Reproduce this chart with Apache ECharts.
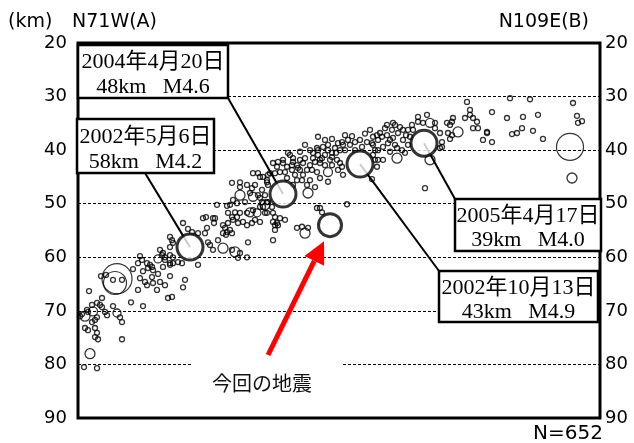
<!DOCTYPE html>
<html>
<head>
<meta charset="utf-8">
<script src="https://cdn.jsdelivr.net/npm/echarts/dist/echarts.min.js"></script>
<style>
html, body { margin: 0; padding: 0; background: #fff; }
#main { width: 634px; height: 443px; }
</style>
</head>
<body>
<div id="main"></div>
<script>
// 断面図: 横軸 = 測線沿いの距離(km, A→B), 縦軸 = 深さ(km)
var depthTicks = [20, 30, 40, 50, 60, 70, 80, 90];
var distRange = [0, 104.4];

// 小さな地震 [距離, 深さ]
var smallQuakes = [
  [12.4,59.8],[12.8,60.5],[12.0,61.1],[14.4,61.4],[14.0,62.0],[13.0,62.6],[15.0,62.4],[16.8,59.6],
  [17.4,60.0],[18.4,59.6],[19.0,61.1],[20.8,61.1],[18.4,61.4],[17.0,61.8],[16.0,63.1],[14.8,63.7],
  [13.4,64.6],[13.8,65.2],[15.0,64.8],[16.4,64.6],[17.4,65.2],[18.4,63.5],[21.4,64.2],[21.0,65.6],
  [15.8,66.1],[12.4,63.9],[12.0,66.1],[10.6,68.4],[13.0,69.1],[18.0,67.6],[18.8,67.4],[7.0,64.2],
  [8.8,64.2],[4.6,63.5],[5.6,63.3],[11.0,62.2],[2.2,66.3],[4.8,67.6],[2.8,68.9],[3.8,68.5],
  [4.4,68.9],[4.8,69.3],[1.8,69.8],[3.4,71.7],[3.8,71.2],[2.8,72.1],[5.4,70.2],[5.8,70.8],
  [7.0,69.1],[8.4,71.2],[8.8,72.1],[1.4,73.2],[2.0,73.6],[3.4,73.2],[3.8,74.1],[3.4,74.9],
  [4.0,75.3],[8.8,75.3],[1.2,80.5],[3.8,80.7],[0.4,71.0],[0.8,70.6],[2.0,70.2],
  [21.0,53.6],[22.0,54.7],[22.8,55.3],[24.0,55.5],[25.0,52.7],[25.6,52.5],[25.8,54.5],[25.4,55.5],
  [27.4,52.7],[27.2,53.6],[27.8,50.2],[26.0,57.2],[26.4,57.7],[27.0,58.6],[28.0,56.8],[30.8,58.6],
  [32.4,59.2],[32.0,60.1],[33.8,60.0],[34.0,57.2],
  [29.0,54.0],[29.4,54.5],[29.8,55.3],[30.4,54.9],[29.6,55.8],[30.8,55.5],[29.0,55.5],[30.0,53.6],
  [31.0,53.0],[31.8,52.5],[30.8,52.5],[30.0,51.7],[31.4,51.6],[32.4,51.7],[33.0,53.4],[32.0,53.6],
  [33.8,51.7],[35.0,51.2],[36.4,50.6],[36.8,49.7],[38.0,49.7],[37.8,51.7],[36.4,53.4],[35.4,53.0],
  [34.8,53.6],[33.8,54.0],[39.0,51.7],[39.8,53.6],[39.4,52.5],[40.0,54.0],
  [30.8,46.1],[32.4,46.0],[32.4,46.9],[33.8,46.5],[34.8,47.1],[35.4,46.5],[36.0,44.3],[36.4,45.0],
  [37.8,45.6],[38.0,46.5],[36.0,48.4],[36.4,48.9],[34.4,48.0],[31.0,49.3],[31.8,49.9],[33.4,49.7],
  [30.4,50.2],[29.8,50.4],
  [18.8,56.8],[19.0,57.3],[18.4,58.1],[16.4,58.6],[17.0,59.2],[17.4,60.5],[19.0,60.0],[18.4,61.1],
  [13.8,61.1],[14.8,61.8],[20.0,60.9],[18.4,56.2],[24.0,61.4],[27.0,52.7],
  [48.0,37.5],[49.4,38.1],[50.8,37.9],[52.8,38.5],[54.8,37.4],[56.4,38.1],[57.8,38.5],[59.0,37.5],
  [53.0,39.0],[52.0,38.7],[51.4,39.6],[50.0,40.0],[49.0,39.4],[47.8,39.6],[47.0,40.5],[48.0,40.9],
  [49.4,40.9],[50.8,41.3],[51.8,41.8],[52.4,42.4],[50.8,42.8],[49.4,42.8],[48.4,42.4],[47.4,42.2],
  [46.4,42.8],[45.8,43.7],[46.8,43.7],[47.8,44.1],[48.4,45.2],[50.0,45.9],[53.0,44.6],[52.0,43.7],
  [52.8,43.1],[45.0,42.4],[44.4,41.8],[43.0,41.5],[42.0,40.5],[43.0,42.2],[43.8,42.8],[44.0,43.3],
  [42.8,42.8],[41.8,43.1],[41.0,42.4],[40.0,42.2],[39.8,43.1],[40.4,44.1],[39.4,44.3],[41.4,44.1],
  [42.8,43.7],[43.4,44.6],[45.0,44.6],[44.8,45.6],[43.8,45.6],[43.0,46.5],[45.8,46.5],[47.4,46.9],
  [46.4,45.6],[38.0,44.6],[37.0,45.0],[37.8,46.0],[36.8,47.4],[37.4,48.4],[37.8,49.7],[38.8,50.6],
  [37.0,50.6],[37.4,51.7],[48.4,50.8],[48.8,51.6],[40.4,52.7],[41.4,53.0],[39.4,54.0],[39.0,53.4],
  [53.8,50.1],[55.4,38.5],[56.8,39.4],[48.0,40.0],[50.0,39.0],[50.8,40.5],[48.8,41.5],[59.8,37.2],
  [60.0,38.1],[59.0,39.0],[59.4,40.0],[60.0,41.8],[59.8,43.1],[38.4,44.3],
  [47.8,50.8],[46.0,54.5],[43.8,54.5],[39.0,56.8],[39.4,54.9],[44.8,54.3],
  [35.0,44.3],[39.0,42.4],[42.4,40.9],[44.4,40.3],
  [58.8,38.7],[60.8,37.5],[61.8,37.2],[62.8,36.2],[63.4,35.3],[64.4,35.7],[65.0,36.2],[64.0,36.8],
  [63.0,37.7],[62.0,38.7],[61.0,39.4],[60.0,40.0],[59.0,40.9],[59.4,41.8],[61.0,41.8],[62.4,40.3],
  [63.8,39.6],[64.8,40.0],[65.4,40.5],[66.0,39.0],[66.4,37.5],[66.0,36.2],[66.8,35.3],[67.0,36.2],
  [68.0,33.8],[69.8,33.4],[68.0,34.7],[69.0,34.9],[71.4,34.9],[71.4,35.9],[72.4,36.8],[72.8,38.5],
  [72.8,39.4],[72.4,39.6],[73.8,34.9],[74.8,34.7],[75.0,34.0],[74.4,35.3],[74.0,36.8],[74.8,37.2],
  [74.4,37.9],[77.8,31.0],[78.4,32.5],[78.4,33.4],[77.4,34.0],[79.0,34.0],[79.8,34.7],[79.0,35.9],
  [80.0,35.9],[81.0,38.1],[81.8,36.8],[69.4,47.1],[61.8,35.3],[63.0,34.9],[60.4,36.8],
  [86.4,30.3],[90.4,30.5],[99.0,31.2],[82.8,32.9],[85.8,34.0],[89.0,33.8],[92.0,33.4],[99.8,33.6],
  [100.8,34.6],[100.0,34.9],[88.8,35.9],[86.8,37.0],[87.8,36.8],[91.0,36.4],[81.8,36.6],[82.8,38.5],
  [93.0,37.9],[58.8,45.4],
  [53.4,40.0],[54.4,39.0],[55.4,40.0],[54.0,38.1],[57.4,36.9],[58.4,36.2],[61.4,35.9],[62.4,38.1],
  [63.4,39.0],[65.0,38.1],[65.6,37.2],[53.4,37.2],[52.4,40.0],[51.6,40.5],[50.4,41.8],[48.4,41.8],
  [47.0,41.5],[45.4,41.5],[44.4,43.7],[41.8,45.2],[41.0,41.8],[46.4,40.0],[45.4,39.0]
];

// やや大きな地震 [距離, 深さ, 円の直径]
var midQuakes = [
  [1.4,71.0,10],[3.0,70.1,9],[7.8,70.4,8],[2.4,78.0,10],[16.0,60.3,8],[29.0,58.3,10],[31.4,59.0,10],
  [34.4,51.6,9],[35.8,51.7,8],[37.4,50.2,10],[35.0,48.7,9],[32.4,48.4,10],[46.0,48.0,10],[50.0,44.1,9],
  [45.4,55.5,10],[76.0,36.6,10],[63.8,41.5,10],[70.4,41.8,10],[70.4,34.9,9],[98.8,45.2,10]
];
var largeQuakes = [[7.8,64.0,30],[7.4,64.8,23],[98.4,39.4,27]];

// 注記付きの地震
var eventXY = [[41.0,48.2],[22.4,58.1],[69.2,38.7],[56.4,42.6]];
var eventDate = ['2004年4月20日', '2002年5月6日', '2005年4月17日', '2002年10月13日'];
var eventInfo = ['48km   M4.6', '58km   M4.2', '39km   M4.0', '43km   M4.9'];
var mainShock = [50.4, 54.0];

var chart = echarts.init(document.getElementById('main'));

var hollow = { color: 'rgba(0,0,0,0)', borderColor: '#000', borderWidth: 1.3 };

var option = {
  animation: false,
  grid: { left: 78, right: 34, top: 43, bottom: 25, show: true, borderColor: '#000', borderWidth: 3 },
  xAxis: { type: 'value', min: distRange[0], max: distRange[1], show: false },
  yAxis: [
    {
      type: 'value', inverse: true, position: 'left',
      min: depthTicks[0], max: depthTicks[depthTicks.length - 1], interval: 10,
      axisLine: { show: false }, axisTick: { show: false },
      axisLabel: { color: '#000', fontSize: 18, fontFamily: 'DejaVu Sans', margin: 11 },
      splitLine: { show: true, lineStyle: { color: '#000', width: 1, type: [3, 2] } }
    },
    {
      type: 'value', inverse: true, position: 'right',
      min: depthTicks[0], max: depthTicks[depthTicks.length - 1], interval: 10,
      axisLine: { show: false }, axisTick: { show: false },
      axisLabel: { color: '#000', fontSize: 18, fontFamily: 'DejaVu Sans', margin: 5 },
      splitLine: { show: false }
    }
  ],
  series: [
    { type: 'scatter', data: smallQuakes, symbolSize: 5, itemStyle: hollow, silent: true, z: 2 },
    { type: 'scatter', data: midQuakes, symbolSize: function (v) { return v[2]; }, itemStyle: hollow, silent: true, z: 2 },
    { type: 'scatter', data: largeQuakes, symbolSize: function (v) { return v[2]; }, itemStyle: { color: 'rgba(0,0,0,0)', borderColor: '#000', borderWidth: 1.2 }, silent: true, z: 2 },
    { type: 'scatter', data: eventXY, symbolSize: 26, itemStyle: { color: '#fff', borderColor: '#000', borderWidth: 3 }, silent: true, z: 4 },
    { type: 'scatter', data: [mainShock], symbolSize: 23, itemStyle: { color: '#fff', borderColor: '#000', borderWidth: 3 }, silent: true, z: 4 }
  ]
};
chart.setOption(option);

// 注記ボックス(位置はレイアウト上の配置)
var boxes = [
  { x: 78, y: 45, w: 150, h: 53, anchor: [228, 98] },
  { x: 77, y: 119, w: 137, h: 54, anchor: [145, 173] },
  { x: 455, y: 199, w: 146, h: 52, anchor: [455, 199] },
  { x: 439, y: 271, w: 159, h: 51, anchor: [439, 271] }
];
var serif = '22px "Liberation Serif", "Noto Sans CJK JP", serif';
var sans = '"DejaVu Sans", sans-serif';
var els = [];

boxes.forEach(function (b, i) {
  var p = chart.convertToPixel({ gridIndex: 0 }, eventXY[i]);
  els.push({ type: 'line', z: 1, shape: { x1: b.anchor[0], y1: b.anchor[1], x2: p[0], y2: p[1] },
    style: { stroke: '#000', lineWidth: 2 } });
  els.push({ type: 'rect', z: 10, shape: { x: b.x, y: b.y, width: b.w, height: b.h },
    style: { fill: '#fff', stroke: '#000', lineWidth: 2.5 } });
  els.push({ type: 'text', z: 11, x: b.x + b.w / 2, y: b.y + b.h * 0.33,
    style: { text: eventDate[i], font: serif, fill: '#000', textAlign: 'center', textVerticalAlign: 'middle' } });
  els.push({ type: 'text', z: 11, x: b.x + b.w / 2, y: b.y + b.h * 0.8,
    style: { text: eventInfo[i], font: serif, fill: '#000', textAlign: 'center', textVerticalAlign: 'middle' } });
});

// 今回の地震: 赤い矢印とラベル
var mp = chart.convertToPixel({ gridIndex: 0 }, mainShock);
var tip = [mp[0] - 6, mp[1] + 16];
var tail = [268, 355];
var dx = tip[0] - tail[0], dy = tip[1] - tail[1];
var len = Math.sqrt(dx * dx + dy * dy);
var ux = dx / len, uy = dy / len;
var bx = tip[0] - ux * 22, by = tip[1] - uy * 22;
els.push({ type: 'rect', z: 5, shape: { x: 193, y: 358, width: 149, height: 40 }, style: { fill: '#fff' } });
els.push({ type: 'line', z: 6, shape: { x1: tail[0], y1: tail[1], x2: bx, y2: by },
  style: { stroke: '#ff0000', lineWidth: 5 } });
els.push({ type: 'polygon', z: 6, shape: { points: [tip, [bx - uy * 11, by + ux * 11], [bx + uy * 11, by - ux * 11]] },
  style: { fill: '#ff0000' } });
els.push({ type: 'text', z: 7, x: 262, y: 383,
  style: { text: '今回の地震', font: '20px "Noto Sans CJK JP", sans-serif', fill: '#111', textAlign: 'center', textVerticalAlign: 'middle' } });

// 見出し
els.push({ type: 'text', x: 8, y: 22, style: { text: '(km)', font: '19px ' + sans, fill: '#000', textVerticalAlign: 'middle' } });
els.push({ type: 'text', x: 72, y: 22, style: { text: 'N71W(A)', font: '19px ' + sans, fill: '#000', textVerticalAlign: 'middle' } });
els.push({ type: 'text', x: 589, y: 22, style: { text: 'N109E(B)', font: '19px ' + sans, fill: '#000', textAlign: 'right', textVerticalAlign: 'middle' } });
els.push({ type: 'text', x: 603, y: 434, style: { text: 'N=652', font: '20px ' + sans, fill: '#000', textAlign: 'right', textVerticalAlign: 'middle' } });

chart.setOption({ graphic: { elements: els } });
</script>
</body>
</html>
